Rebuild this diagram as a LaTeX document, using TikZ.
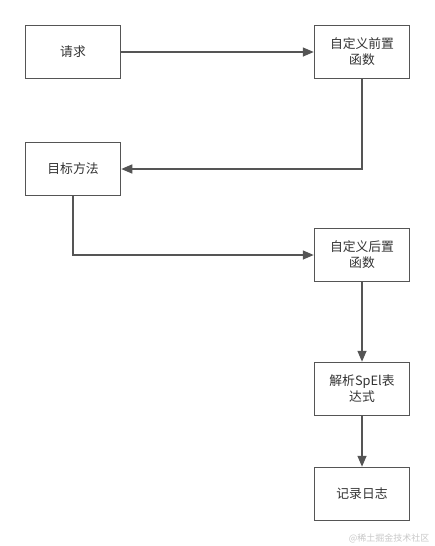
\documentclass[tikz,border=0pt]{standalone}
\usepackage{fontspec}
\newfontfamily\cjk{Noto Sans CJK SC}
\usepackage{xcolor}
\usetikzlibrary{
  positioning,
  arrows.meta
}
\definecolor{linegray}{HTML}{555555}
\definecolor{markgray}{HTML}{C8C8C8}

\begin{document}
\begin{tikzpicture}[x=1pt,y=-1pt,>={Triangle[length=11pt,width=9pt]},
    box/.style={draw=linegray,line width=1.5pt,fill=white,minimum width=95pt,minimum height=53pt,
      inner sep=0pt,align=center,text=black!80,font=\cjk\fontsize{12.8}{16}\selectfont},
    flow/.style={->,draw=linegray,line width=1.5pt}]
        \useasboundingbox (0,0) rectangle (435,546);
        \node[box] (req) at (73,52) {请求};
        \node[box] (pre) at (362,52) {自定义前置\\函数};
        \node[box] (target) at (73,169) {目标方法};
        \node[box] (post) at (362,255) {自定义后置\\函数};
        \node[box] (spel) at (362,389) {解析SpEl表\\达式};
        \node[box] (log) at (362,494) {记录日志};
        \draw[flow] (req) -- (pre);
        \draw[flow] (pre) |- (target);
        \draw[flow] (target) |- (post);
        \draw[flow] (post) -- (spel);
        \draw[flow] (spel) -- (log);
        \node[text=markgray,font=\cjk\fontsize{9}{10}\selectfont,anchor=east] (mark) at (433,538) {@稀土掘金技术社区};
    \end{tikzpicture}
\end{document}
